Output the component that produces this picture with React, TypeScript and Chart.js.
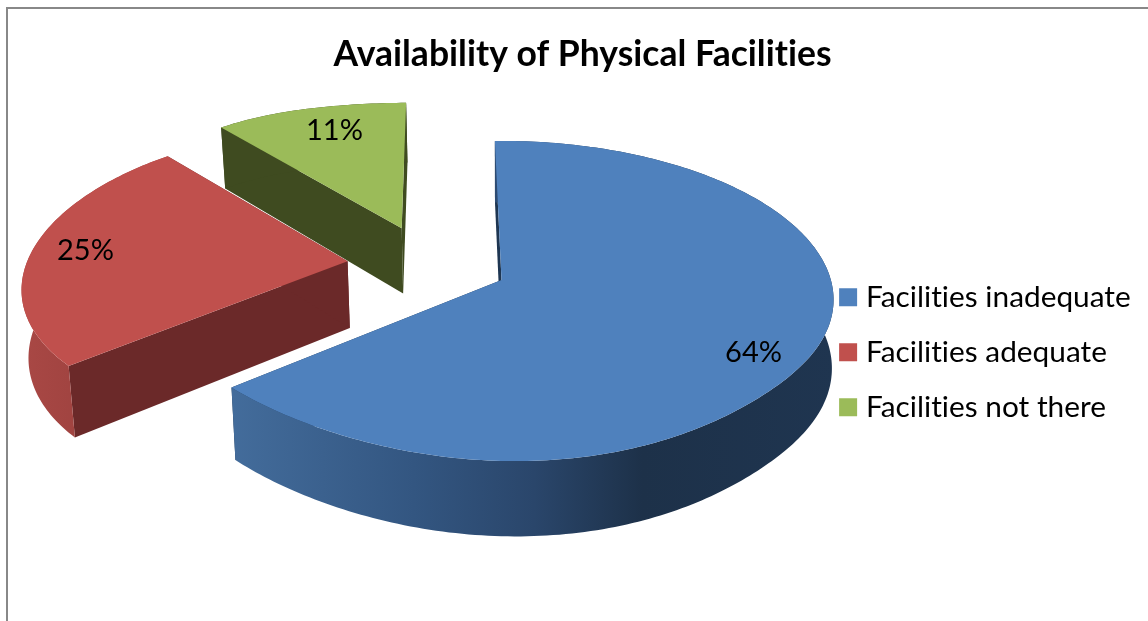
import React, { useEffect, useRef } from "react";
import { Chart, registerables } from "chart.js";

Chart.register(...registerables);

const TITLE = "Availability of Physical Facilities";
const CATEGORIES = ["Facilities inadequate", "Facilities adequate", "Facilities not there"];
const VALUES = [64, 25, 11];
const TOP_COLORS = ["#4F81BD", "#C0504D", "#9BBB59"];
const EDGE_COLORS = ["#1E3652", "#6B2929", "#3F4B20"];
const FONT = "Lato, Carlito, sans-serif";

// projection of the tilted pie plane (unit circle) to the page
const VIEW = {
  rotation: -1.3,
  explodeX: 0.2484,
  explodeY: 0.262,
  fx: 325,
  fy: 150,
  kx: -0.125,
  ky: -0.1,
  vx: 501.5,
  y0: 264,
  depth: 67,
  convergeLeft: 0.0145,
  convergeRight: 0.005,
  bulge: 83,
  farFlat: 80,
  shear: 56,
  leftPull: 9.5,
};
const LABEL_TURN = [8, 1, 1.5];
const LABEL_RADIUS = [0.85, 0.83, 0.775];

function project(X: number, Y: number, z: number) {
  const wx = 1 + VIEW.kx * Y;
  const wy = 1 + VIEW.ky * Y;
  const A = -VIEW.explodeX * 0.914 * VIEW.fx;
  const near = Math.max(0, Y - 0.75);
  const far = Math.max(0, -Y - 1);
  const lean = Math.max(0, Y - 0.6);
  const wide = Math.max(0, -X - 0.6);
  let sx = VIEW.vx + (A + VIEW.fx * X) / wx + VIEW.shear * lean * lean + VIEW.leftPull * wide * wide;
  let sy = VIEW.y0 + (VIEW.fy * Y) / wy + VIEW.bulge * near * near + VIEW.farFlat * far * far;
  if (z > 0) {
    const conv = sx > VIEW.vx ? VIEW.convergeRight : VIEW.convergeLeft;
    sx = VIEW.vx + (sx - VIEW.vx) * (1 - conv * z);
    sy += (VIEW.depth * z) / wy;
  }
  return { x: sx, y: sy };
}

const wallGradient = (ctx: CanvasRenderingContext2D, i: number) => {
  if (i === 0) {
    const g = ctx.createLinearGradient(233, 0, 835, 0);
    g.addColorStop(0, "#436C9B");
    g.addColorStop(0.3, "#335681");
    g.addColorStop(0.5, "#2A466B");
    g.addColorStop(0.68, "#1D3149");
    g.addColorStop(1, "#1F3550");
    return g;
  }
  if (i === 1) {
    const g = ctx.createLinearGradient(22, 0, 80, 0);
    g.addColorStop(0, "#A94845");
    g.addColorStop(1, "#A04340");
    return g;
  }
  return EDGE_COLORS[i];
};

const piePlugin = {
  id: "tiltedPie",
  beforeDraw(chart: any) {
    const c = chart.ctx;
    c.letterSpacing = "0.01px";
    c.save();
    c.fillStyle = "#fff";
    c.fillRect(0, 0, chart.width, chart.height);
    c.fillStyle = "#888888";
    c.fillRect(6, 7, chart.width, 2);
    c.fillRect(6, 7, 2, chart.height);
    c.restore();
  },
  beforeDatasetsDraw(chart: any) {
    const c: CanvasRenderingContext2D = chart.ctx;
    const arcs = chart.getDatasetMeta(0).data;
    const total = VALUES.reduce((a, b) => a + b, 0);
    const order = arcs.map((_: any, i: number) => i).reverse();
    order.forEach((i: number) => {
      const { startAngle: a0, endAngle: a1 } = arcs[i].getProps(["startAngle", "endAngle"], true);
      const mid = (a0 + a1) / 2;
      const ox = Math.cos(mid) * VIEW.explodeX;
      const oy = Math.sin(mid) * VIEW.explodeY;
      const pt = (a: number, r: number, z: number) =>
        project(ox + r * Math.cos(a), oy + r * Math.sin(a), z);
      const steps = Math.max(4, Math.ceil(((a1 - a0) * 180) / Math.PI));
      const path = (pts: { x: number; y: number }[], fill: any) => {
        c.beginPath();
        pts.forEach((p, k) => (k ? c.lineTo(p.x, p.y) : c.moveTo(p.x, p.y)));
        c.closePath();
        c.fillStyle = fill;
        c.fill();
      };
      // radial walls
      [a0, a1].forEach((a) => {
        path([pt(a, 0, 0), pt(a, 1, 0), pt(a, 1, 1), pt(a, 0, 1)], EDGE_COLORS[i]);
      });
      // outer wall
      const upper: any[] = [];
      const lower: any[] = [];
      for (let k = 0; k <= steps; k++) {
        const a = a0 + ((a1 - a0) * k) / steps;
        upper.push(pt(a, 1, 0));
        lower.unshift(pt(a, 1, 1));
      }
      path([...upper, ...lower], wallGradient(c, i));
      // top face
      path([pt(a0, 0, 0), ...upper], TOP_COLORS[i]);
    });
    // value labels
    c.save();
    c.fillStyle = "#000";
    c.font = `29px ${FONT}`;
    c.textAlign = "center";
    c.textBaseline = "middle";
    arcs.forEach((arc: any, i: number) => {
      const { startAngle: a0, endAngle: a1 } = arc.getProps(["startAngle", "endAngle"], true);
      const mid = (a0 + a1) / 2;
      const la = mid + (LABEL_TURN[i] * Math.PI) / 180;
      const p = project(
        Math.cos(mid) * VIEW.explodeX + LABEL_RADIUS[i] * Math.cos(la),
        Math.sin(mid) * VIEW.explodeY + LABEL_RADIUS[i] * Math.sin(la),
        0
      );
      c.fillText(`${Math.round((VALUES[i] / total) * 100)}%`, p.x, p.y);
    });
    c.restore();
    return false;
  },
};

export default function App() {
  const ref = useRef<HTMLCanvasElement>(null);
  useEffect(() => {
    const chart = new Chart(ref.current!, {
      type: "pie",
      data: {
        labels: CATEGORIES,
        datasets: [{ data: VALUES, backgroundColor: TOP_COLORS, borderWidth: 0 }],
      },
      plugins: [piePlugin],
      options: {
        responsive: false,
        animation: false,
        rotation: VIEW.rotation,
        layout: { padding: { left: 24, right: 7, top: 27, bottom: 0 } },
        plugins: {
          tooltip: { enabled: false },
          title: {
            display: true,
            text: TITLE,
            color: "#000",
            font: { family: FONT, size: 35.5, weight: "bold" },
            padding: { top: 6, bottom: 8 },
          },
          legend: {
            position: "right",
            fullSize: false,
            labels: {
              boxWidth: 6,
              boxHeight: 6,
              padding: 25.2,
              color: "#000",
              font: { family: FONT, size: 29.8 },
              generateLabels: () =>
                CATEGORIES.map((text, i) => ({
                  text,
                  fillStyle: TOP_COLORS[i],
                  strokeStyle: TOP_COLORS[i],
                  lineWidth: 12,
                  hidden: false,
                  index: i,
                })),
            },
          },
        },
      } as any,
    });
    return () => chart.destroy();
  }, []);
  return (
    <canvas
      ref={ref}
      width={1148}
      height={621}
      style={{ position: "absolute", left: 0, top: 0, display: "block" }}
    />
  );
}
